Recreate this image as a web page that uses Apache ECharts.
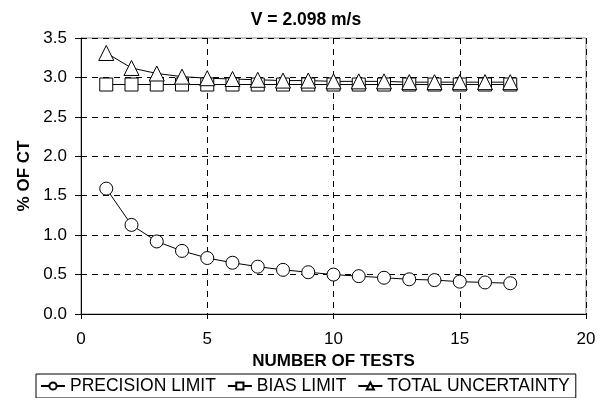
<!DOCTYPE html>
<html><head><meta charset="utf-8">
<script src="https://cdn.jsdelivr.net/npm/echarts@6/dist/echarts.min.js"></script>
<style>html,body{margin:0;padding:0;background:#fff}#c{width:604px;height:398px}</style>
</head><body><div id="c"></div>
<script>
const tests = [1,2,3,4,5,6,7,8,9,10,11,12,13,14,15,16,17];
const precisionLimit = [1.59,1.13,0.92,0.80,0.71,0.65,0.60,0.56,0.53,0.50,0.48,0.46,0.44,0.43,0.41,0.40,0.39];
const biasLimit = [2.91,2.91,2.91,2.91,2.91,2.91,2.91,2.91,2.91,2.91,2.91,2.91,2.91,2.91,2.91,2.91,2.91];
const totalUncertainty = [3.31,3.12,3.05,3.01,2.99,2.98,2.97,2.96,2.96,2.95,2.95,2.95,2.94,2.94,2.94,2.94,2.94];
const seriesNames = ['PRECISION LIMIT','BIAS LIMIT','TOTAL UNCERTAINTY'];

const font = 'Liberation Sans, Arial, sans-serif';
const chart = echarts.init(document.getElementById('c'), null, {renderer:'canvas'});
function pts(ys){ return tests.map((x,i)=>[x, ys[i]]); }
function mk(name, ys, symbol, size){
  return {name, type:'line', data: pts(ys), symbol, symbolSize:size,
    lineStyle:{color:'#000', width:1}, itemStyle:{color:'#fff', borderColor:'#000', borderWidth:1},
    emphasis:{disabled:true}, animation:false};
}
chart.setOption({
  animation:false,
  title:{text:'V = 2.098 m/s', left:301, top:6, textAlign:'center',
    textStyle:{fontFamily:font, fontSize:17.5, fontWeight:'bold', color:'#000'}},
  grid:{left:81, right:18, top:38, bottom:84, show:true, borderColor:'#888', borderWidth:1, backgroundColor:'#fff'},
  xAxis:{type:'value', min:0, max:20, interval:5,
    name:'NUMBER OF TESTS', nameLocation:'middle', nameGap:32,
    nameTextStyle:{fontFamily:font, fontSize:17, fontWeight:'bold', color:'#000'},
    axisLine:{lineStyle:{color:'#000', width:1}},
    axisTick:{show:true, inside:false, length:5, lineStyle:{color:'#000'}},
    axisLabel:{fontFamily:font, fontSize:17, color:'#000', margin:17},
    splitLine:{show:true, lineStyle:{color:'#000', type:[6,5], width:1}}},
  yAxis:{type:'value', min:0, max:3.5, interval:0.5,
    name:'% OF CT', nameLocation:'middle', nameGap:45, nameRotate:90,
    nameTextStyle:{fontFamily:font, fontSize:17, fontWeight:'bold', color:'#000'},
    axisLine:{show:true, lineStyle:{color:'#000', width:1}},
    axisTick:{show:true, inside:false, length:6, lineStyle:{color:'#000'}},
    axisLabel:{fontFamily:font, fontSize:17, color:'#000', margin:14, formatter:v=>v.toFixed(1)},
    splitLine:{show:true, lineStyle:{color:'#000', type:[6,5], width:1}}},
  legend:{data:seriesNames, left:36, top:374, itemGap:11, itemWidth:24, itemHeight:9,
    borderColor:'#000', borderWidth:1, padding:[3,6,3,4], backgroundColor:'#fff',
    textStyle:{fontFamily:font, fontSize:17.5, color:'#000'}},
  series:[
    mk(seriesNames[0], precisionLimit, 'circle', 13),
    mk(seriesNames[1], biasLimit, 'rect', 13),
    mk(seriesNames[2], totalUncertainty, 'triangle', 15)
  ]
});
</script></body></html>
